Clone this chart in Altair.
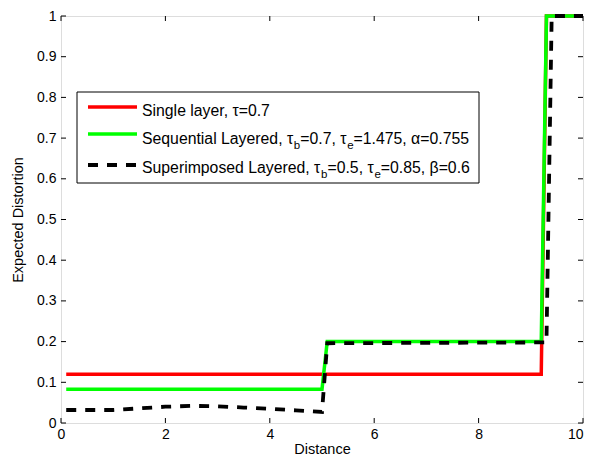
import altair as alt
import pandas as pd

# ---- data ----
single_x = [0.1, 9.2, 9.3, 10.0]
single_y = [0.12, 0.12, 1.0, 1.0]

seq_x = [0.1, 5.0, 5.1, 9.2, 9.3, 10.0]
seq_y = [0.083, 0.083, 0.2, 0.2, 1.0, 1.0]

sup_x = [0.1, 1.0, 1.5, 2.0, 2.5, 3.0, 3.5, 4.0, 4.5, 5.0, 5.1, 9.3, 9.4, 10.0]
sup_y = [0.032, 0.032, 0.036, 0.040, 0.042, 0.041, 0.038, 0.035, 0.031, 0.027,
         0.196, 0.198, 1.0, 1.0]

x_ticks = [0, 2, 4, 6, 8, 10]
y_ticks = [0, 0.1, 0.2, 0.3, 0.4, 0.5, 0.6, 0.7, 0.8, 0.9, 1.0]

x_title = "Distance"
y_title = "Expected Distortion"

legend_rows = [
    [("Single layer, τ=0.7", "m")],
    [("Sequential Layered, τ", "m"), ("b", "s"), ("=0.7, τ", "m"), ("e", "s"),
     ("=1.475, α=0.755", "m")],
    [("Superimposed Layered, τ", "m"), ("b", "s"), ("=0.5, τ", "m"), ("e", "s"),
     ("=0.85, β=0.6", "m")],
]
legend_colors = ["#ff0000", "#00ff00", "#000000"]

# ---- layout ----
W, H = 522, 407
FONT = "Liberation Sans"
LFS, SFS = 15.8, 11.5
DASH = [10, 9]

def series_df(xs, ys):
    return pd.DataFrame({"x": xs, "y": ys, "o": list(range(len(xs)))})

X = alt.X("x:Q", scale=alt.Scale(domain=[0, 10], nice=False, zero=False),
          axis=alt.Axis(values=x_ticks, ticks=False, grid=False, domain=False,
                        labelFont=FONT, labelFontSize=14, labelColor="black",
                        labelPadding=4, labelFlush=False,
                        labelAlign={"condition": {"test": "datum.value >= 10", "value": "right"},
                                    "value": "center"},
                        title=x_title,
                        titleFont=FONT, titleFontSize=14.5, titleFontWeight="normal",
                        titleColor="black", titlePadding=1))
Y = alt.Y("y:Q", scale=alt.Scale(domain=[0, 1], nice=False, zero=False),
          axis=alt.Axis(values=y_ticks, format="~g", ticks=False, grid=False,
                        domain=False, labelFont=FONT, labelFontSize=14,
                        labelColor="black", labelPadding=5, labelFlush=False,
                        title=y_title, titleFont=FONT, titleFontSize=14.5,
                        titleFontWeight="normal", titleColor="black",
                        titlePadding=11))

layers = []
layers.append(alt.Chart(series_df(single_x, single_y)).mark_line(
    color="#ff0000", strokeWidth=3.5).encode(x=X, y=Y, order="o:Q"))
layers.append(alt.Chart(series_df(seq_x, seq_y)).mark_line(
    color="#00ff00", strokeWidth=3.5).encode(x=X, y=Y, order="o:Q"))
layers.append(alt.Chart(series_df(sup_x, sup_y)).mark_line(
    color="black", strokeWidth=3.8, strokeDash=DASH).encode(x=X, y=Y, order="o:Q"))

# inward ticks on all four sides
xt = pd.DataFrame({"x": x_ticks})
yt = pd.DataFrame({"y": y_ticks})
TL = 5
layers.append(alt.Chart(xt).mark_rule(color="black", strokeWidth=1).encode(
    x=X, y=alt.value(H), y2=alt.value(H - TL)))
layers.append(alt.Chart(xt).mark_rule(color="black", strokeWidth=1).encode(
    x=X, y=alt.value(0), y2=alt.value(TL)))
layers.append(alt.Chart(yt).mark_rule(color="black", strokeWidth=1).encode(
    y=Y, x=alt.value(0), x2=alt.value(TL)))
layers.append(alt.Chart(yt).mark_rule(color="black", strokeWidth=1).encode(
    y=Y, x=alt.value(W - TL), x2=alt.value(W)))

# ---- manual legend (box, samples, text with subscripts) ----
one = pd.DataFrame({"k": [0]})
BX0, BX1, BY0, BY1 = 16, 418, 76, 167
layers.append(alt.Chart(one).mark_rect(fill="white", stroke="black", strokeWidth=1).encode(
    x=alt.value(BX0), x2=alt.value(BX1), y=alt.value(BY0), y2=alt.value(BY1)))

line_y = [91, 118, 149]
text_y = [100, 128, 157]
for i, c in enumerate(legend_colors):
    kw = dict(color=c, strokeWidth=3.5 if i < 2 else 3.8)
    if i == 2:
        kw["strokeDash"] = DASH
    layers.append(alt.Chart(one).mark_rule(**kw).encode(
        x=alt.value(27), x2=alt.value(76), y=alt.value(line_y[i]), y2=alt.value(line_y[i])))

CW = {' ': 278, ',': 278, '.': 278, '=': 584, 'S': 667, 'L': 556, 'e': 556, 'q': 556,
      'u': 556, 'n': 556, 't': 278, 'i': 222, 'a': 556, 'l': 222, 'y': 500, 'r': 333,
      'd': 556, 'p': 556, 'm': 833, 'o': 556, 's': 500, 'g': 556, 'b': 556,
      'τ': 440, 'α': 580, 'β': 575}

def text_width(s, fs):
    return sum(CW.get(ch, 556) for ch in s) * fs / 1000.0

for i, row in enumerate(legend_rows):
    cx = 81.0
    for seg, kind in row:
        fs = LFS if kind == "m" else SFS
        yy = text_y[i] if kind == "m" else text_y[i] + 5
        layers.append(alt.Chart(one).mark_text(
            align="left", baseline="alphabetic", font=FONT, fontSize=fs, color="black"
        ).encode(x=alt.value(cx), y=alt.value(yy), text=alt.value(seg)))
        cx += text_width(seg, fs)

chart = alt.layer(*layers).properties(
    width=W, height=H,
    autosize=alt.AutoSizeParams(type="none"),
    padding={"left": 53, "top": 8, "right": 1, "bottom": 34},
).configure_view(stroke="black", strokeWidth=1).configure(background="white")

chart.save("out.html", embed_options={"renderer": "svg", "actions": False})
